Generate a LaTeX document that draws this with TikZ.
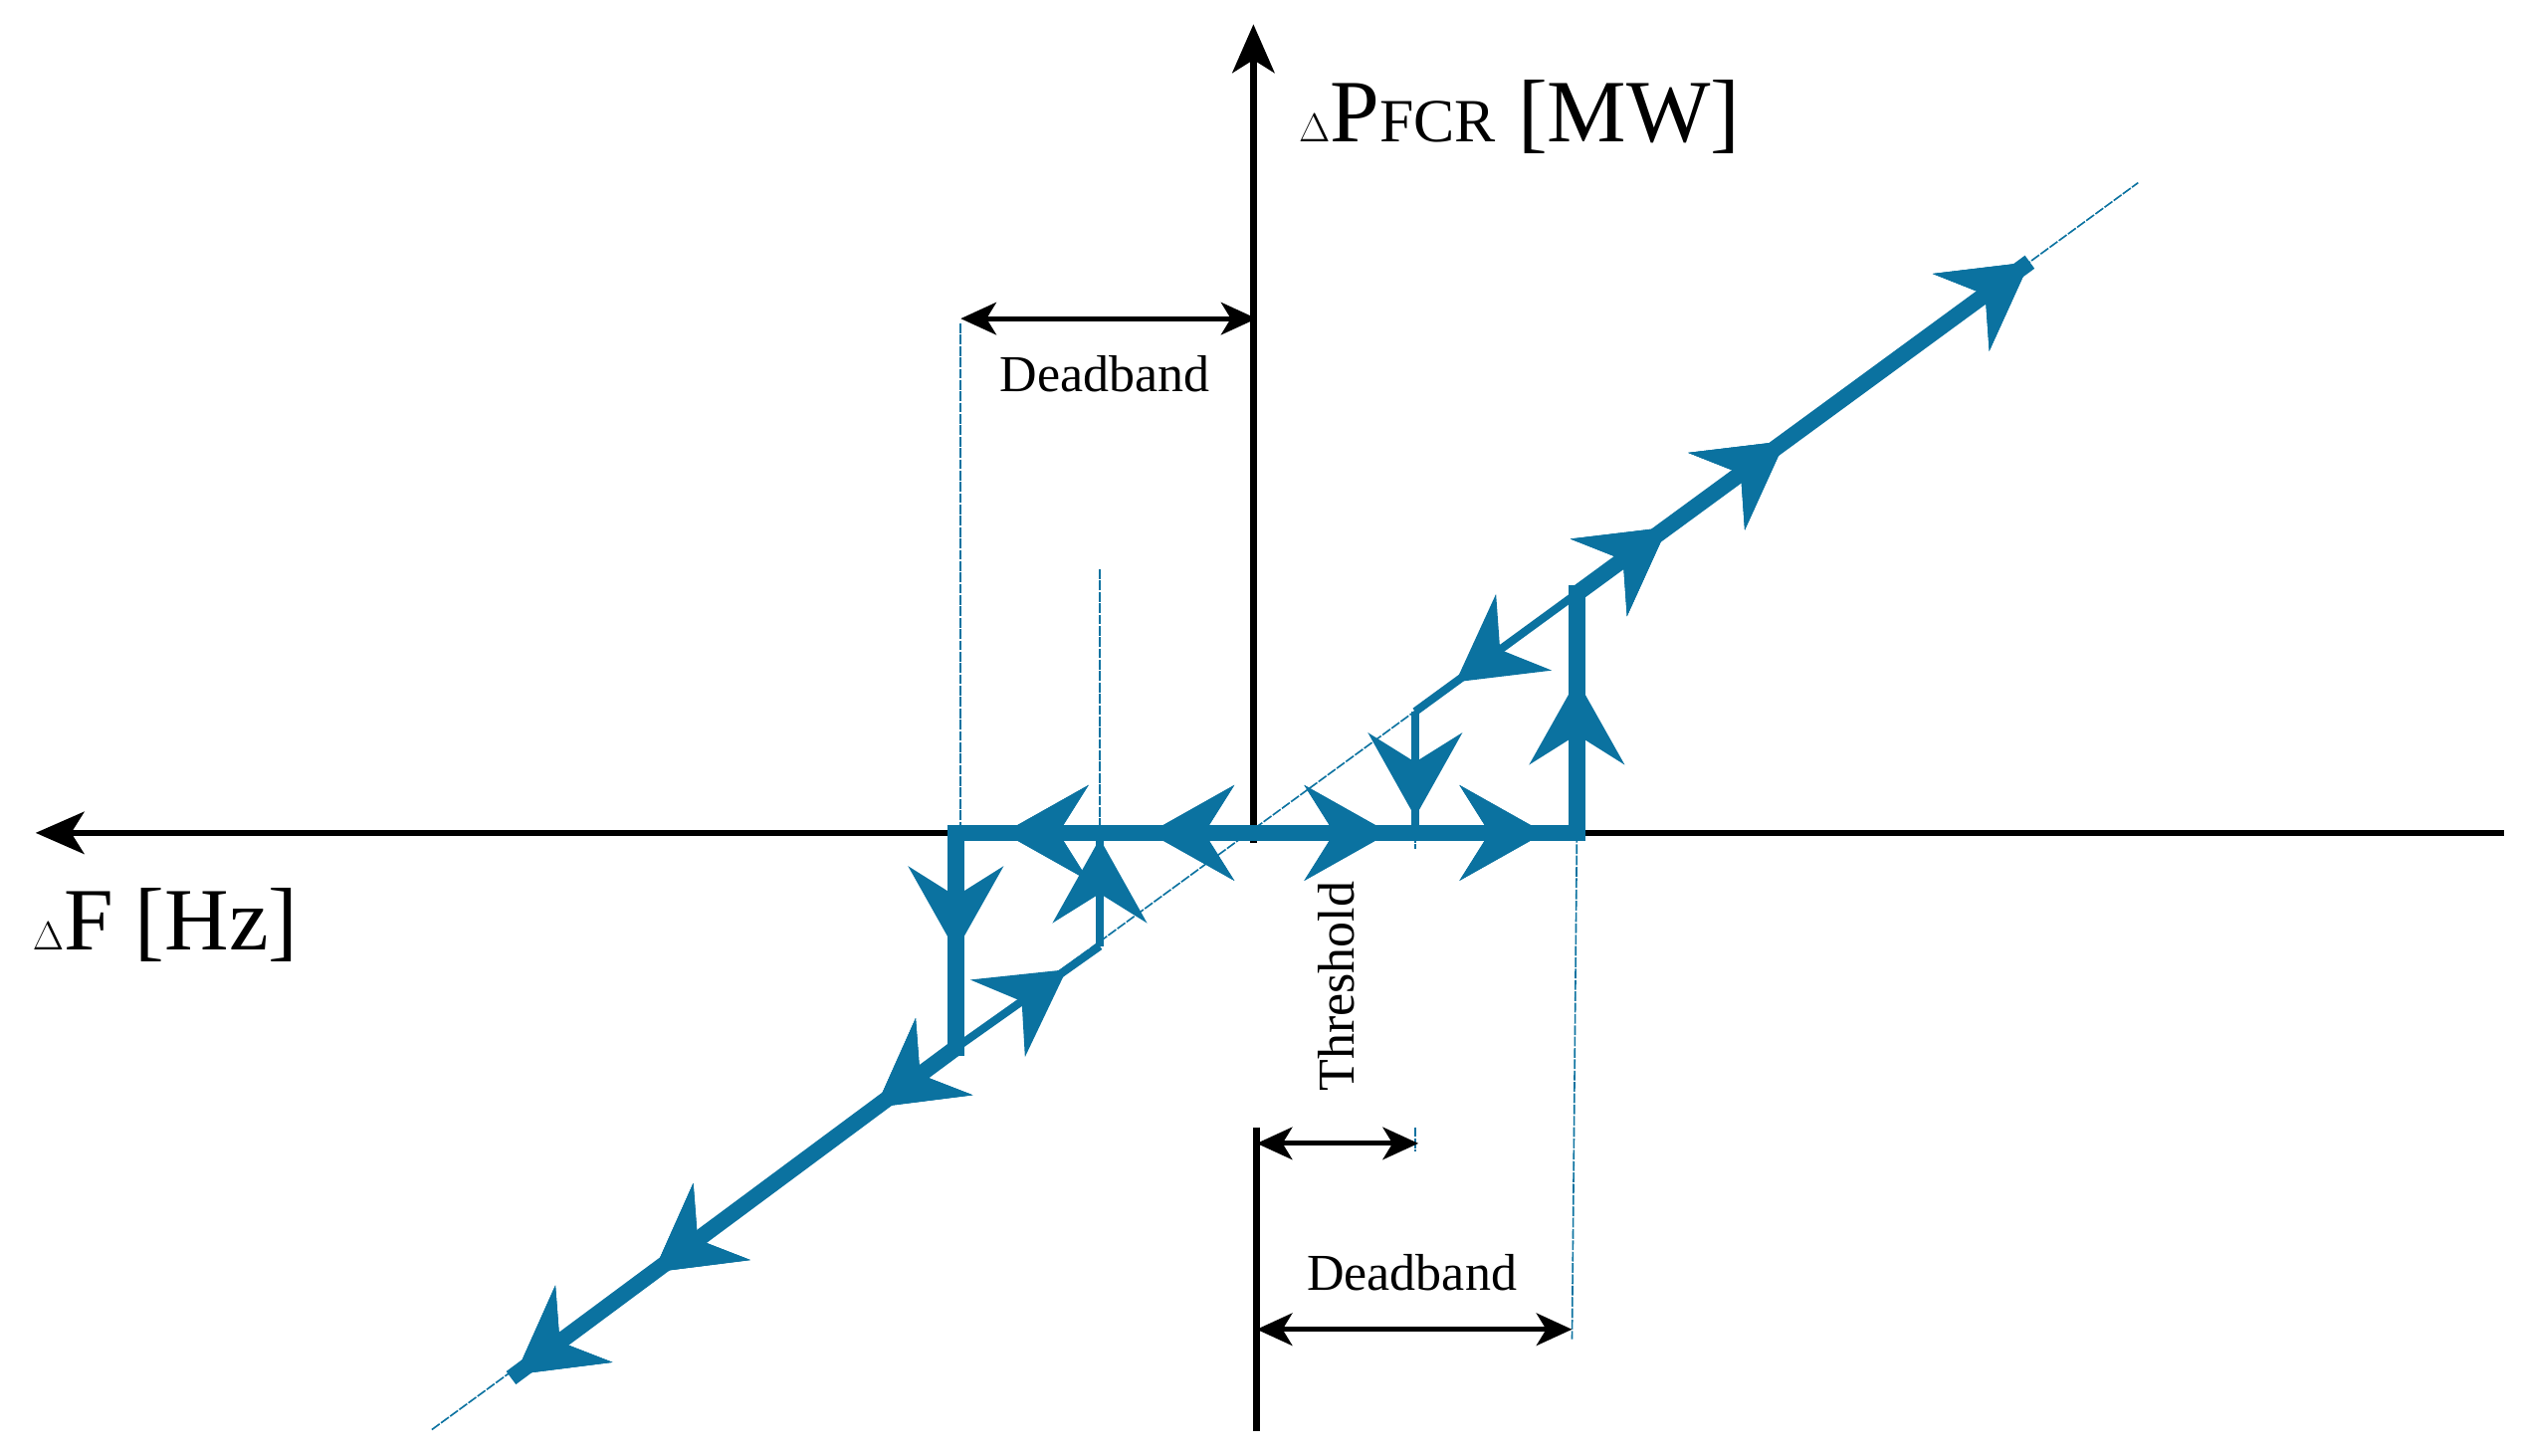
\documentclass[tikz,border=0pt]{standalone}
\usepackage{fontspec}
\setmainfont{Liberation Serif}
\usetikzlibrary{arrows.meta,decorations.markings}
\definecolor{fb}{HTML}{0B72A0}
\begin{document}
\begin{tikzpicture}[x=1pt,y=-1pt,
  ax/.style={line width=4pt,black},
  thick blue/.style={line width=10pt,fb},
  med blue/.style={line width=5pt,fb},
  thin blue/.style={line width=1pt,fb,dash pattern=on 6pt off 1pt},
  dim/.style={line width=3pt,black,{Stealth[length=22pt,width=20pt,inset=6pt]}-{Stealth[length=22pt,width=20pt,inset=6pt]}},
  hd/.style={decoration={markings,mark=at position #1 with {\arrow[fb]{Stealth[length=52pt,width=58pt,inset=18pt]}}},postaction=decorate},
  lbl/.style={font=\fontsize{32}{36}\selectfont,inner sep=0pt}]
\useasboundingbox (0,0) rectangle (1560,900);
% coordinates
\coordinate (o) at (775,515);
\coordinate (dl0) at (267,884);
\coordinate (dl1) at (1322,113);
\coordinate (p1) at (316,852);
\coordinate (p2) at (591,648);
\coordinate (p3) at (591,515);
\coordinate (p4) at (975,515);
\coordinate (p5) at (975,367);
\coordinate (p6) at (1255,162);
\coordinate (q1) at (680,585);
\coordinate (q2) at (680,515);
\coordinate (r1) at (875,440);
\coordinate (r2) at (875,515);
% axes
\coordinate (xr) at (1548,515);
\coordinate (xl) at (22,515);
\coordinate (yt) at (775,15);
\coordinate (yb) at (775,521);
\coordinate (yb2) at (777,697);
\coordinate (yb3) at (777,885);
\draw[ax,-{Stealth[length=30pt,width=26pt,inset=8pt]}] (xr) -- (xl);
\draw[ax,-{Stealth[length=30pt,width=26pt,inset=8pt]}] (yb) -- (yt);
\draw[ax] (yb2) -- (yb3);
\node[anchor=west,font=\fontsize{55}{60}\selectfont,inner sep=0pt] (ylab) at (803,72) {$\Delta$P{\fontsize{38}{40}\selectfont FCR} [MW]};
\node[anchor=west,font=\fontsize{55}{60}\selectfont,inner sep=0pt] (xlab) at (20,572) {$\Delta$F [Hz]};
% thin dashed guides
\draw[thin blue] (dl0) -- (dl1);
\coordinate (g1) at (594,200);
\coordinate (g2) at (680,352);
\coordinate (g3) at (972,828);
\coordinate (g4) at (875,700);
\draw[thin blue] (g1) -- (594,515);
\draw[thin blue] (g2) -- (q2);
\draw[thin blue] (p4) -- (g3);
\draw[thin blue] (r2) -- (875,525);
\draw[thin blue] (875,697) -- (g4) -- (875,712);
% blue paths
\draw[thick blue,hd=0.18,hd=0.68,hd=0.99] (p2) -- (p1);
\draw[thick blue,line cap=rect,hd=0.55] (p3) -- (p2);
\draw[thick blue,line cap=rect,hd=0.35,hd=0.84] (o) -- (p3);
\draw[thick blue,line cap=rect,hd=0.42,hd=0.9] (o) -- (p4);
\draw[thick blue,line cap=rect,hd=0.64] (p4) -- (p5);
\draw[thick blue,hd=0.2,hd=0.46,hd=1] (p5) -- (p6);
\draw[med blue,hd=0.77] (p2) -- (q1);
\draw[med blue,hd=0.95] (q1) -- (q2);
\draw[med blue,hd=0.75] (p5) -- (r1);
\draw[med blue,hd=0.87] (r1) -- (r2);
% dimensions
\coordinate (d1a) at (594,197); \coordinate (d1b) at (777,197);
\draw[dim] (d1a) -- (d1b);
\node[lbl] (t1) at (683,231) {Deadband};
\coordinate (d2a) at (777,822); \coordinate (d2b) at (972,822);
\draw[dim] (d2a) -- (d2b);
\node[lbl] (t2) at (873,787) {Deadband};
\coordinate (d3a) at (777,707); \coordinate (d3b) at (877,707);
\draw[dim] (d3a) -- (d3b);
\node[lbl,rotate=90] (t3) at (826,610) {Threshold};
\end{tikzpicture}
\end{document}
